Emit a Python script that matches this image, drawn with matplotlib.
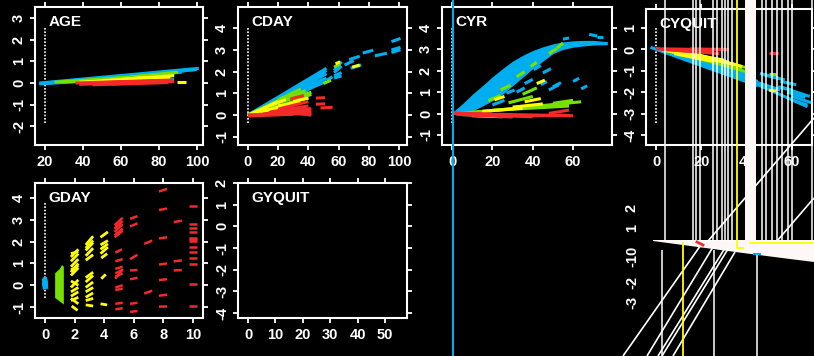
import numpy as np
import matplotlib.pyplot as plt
from matplotlib.collections import LineCollection

plt.rcParams['font.family'] = ['Liberation Sans', 'DejaVu Sans']

W, H = 814, 356
CYAN = '#00AEEF'
GREEN = '#76E000'
YELLOW = '#FFFF00'
RED = '#F42A2A'
OFFWHITE = '#FDF7F5'

# panel layout and axes (box in pixels: left, top, right, bottom)
titles = ['AGE', 'CDAY', 'CYR', 'CYQUIT', 'GDAY', 'GYQUIT']
boxes = [(35, 7, 203, 145), (238, 7, 407, 145), (442, 7, 612, 145),
         (646, 9, 812, 145), (35, 183, 203, 318), (238, 183, 407, 318)]
xlims = [(14.7, 103.2), (-6.6, 105.3), (-5.0, 79.3), (-4.5, 69.0), (-0.68, 10.68), (-3.65, 58.0)]
ylims = [(-2.86, 3.51), (-1.37, 4.96), (-1.47, 4.98), (-4.47, 1.89), (-1.5, 4.69), (-4.23, 2.0)]
xticks = [[20, 40, 60, 80, 100], [0, 20, 40, 60, 80, 100], [0, 20, 40, 60],
          [0, 20, 40, 60], [0, 2, 4, 6, 8, 10], [0, 10, 20, 30, 40, 50]]
yticks = [range(-2, 4), range(-1, 5), range(-1, 5), range(-4, 2), range(-1, 5), range(-4, 3)]

# white dotted reference line per panel: x, ymin, ymax
dot_x = [20, 0, 0, 0, 0, None]
dot_lo = [-1.85, -0.37, -0.45, -3.44, -0.58, None]
dot_hi = [2.54, 3.99, 4.0, 1.0, 3.77, None]

# ---- AGE segments (x0, y0, x1, y1)
age_cyan = [(17, 0.0, 101, 0.68), (17, -0.03, 95, 0.58), (20, 0.0, 90, 0.52), (30, 0.06, 99, 0.62),
            (40, 0.1, 88, 0.45), (17, -0.04, 60, 0.18), (60, 0.3, 92, 0.5), (78, 0.12, 88, 0.16),
            (88, 0.55, 100, 0.63)]
age_green = [(25, 0.04, 60, 0.24), (40, 0.1, 80, 0.36), (55, 0.2, 88, 0.45), (65, 0.28, 90, 0.5),
             (70, 0.3, 88, 0.38), (30, 0.05, 55, 0.15)]
age_yellow = [(38, 0.04, 70, 0.2), (50, 0.1, 85, 0.3), (60, 0.17, 88, 0.34), (68, 0.22, 86, 0.26),
              (89.5, 0.03, 94, 0.03)]
age_red = [(36, 0.0, 87, 0.14), (38, -0.06, 75, 0.04), (45, -0.08, 85, 0.02), (50, 0.02, 82, 0.1),
           (40, -0.03, 70, 0.08), (55, -0.05, 88, 0.08)]

# ---- CDAY
cday_cyan = [(0, 0, 35, 1.35), (0, 0, 40, 1.5), (0, 0, 45, 1.75), (0, 0, 52, 2.15), (5, 0.1, 52, 1.9),
             (10, 0.3, 50, 1.65), (20, 0.6, 52, 1.55), (25, 0.75, 40, 1.05), (30, 0.95, 40, 1.25),
             (38, 1.25, 52, 1.7), (40, 1.5, 52, 2.05), (15, 0.5, 42, 1.25), (57, 2.05, 62, 2.45),
             (57, 1.95, 62, 2.25), (57, 1.8, 62, 1.95), (57, 1.7, 62, 1.8), (64, 2.3, 70, 2.5),
             (67, 2.55, 74, 2.7), (76, 2.85, 83, 2.98), (68, 2.15, 75, 2.3), (84, 2.72, 92, 2.84),
             (95, 3.37, 101, 3.52), (95, 2.99, 101, 3.11), (95, 2.87, 101, 3.0), (52, 1.6, 56, 1.76)]
cday_green = [(0, 0, 30, 1.0), (0, 0, 38, 1.12), (10, 0.25, 40, 0.8), (15, 0.45, 42, 1.05),
              (20, 0.7, 35, 1.2), (50, 1.45, 55, 1.6), (57, 2.2, 61, 2.35), (30, 0.7, 42, 0.95)]
cday_yellow = [(0, 0, 20, 0.62), (5, 0.05, 30, 0.58), (15, 0.45, 25, 0.72), (20, 0.42, 35, 0.56),
               (30, 0.62, 40, 0.78), (58, 2.35, 61, 2.45), (69, 2.2, 74, 2.3), (10, 0.2, 22, 0.35)]
cday_red = [(0, 0, 42, 0.18), (0, 0, 42, 0.08), (0, -0.04, 30, 0.04), (10, 0.05, 42, 0.3),
            (20, 0.28, 40, 0.62), (28, 0.74, 37, 0.9), (45, 0.78, 51, 0.8), (45, 0.5, 51, 0.52),
            (48, 0.33, 56, 0.36), (15, 0.15, 40, 0.42), (30, 0.1, 42, 0.0)]

# ---- CYR: dense cyan band edges plus loose dashes
cyr_band_x = [0, 5, 10, 15, 20, 25, 30, 35, 40, 45, 50, 55, 60, 65, 70, 77]
cyr_band_top = [0.05, 0.45, 0.9, 1.3, 1.72, 2.1, 2.45, 2.72, 2.95, 3.12, 3.26, 3.35, 3.4, 3.42, 3.42, 3.36]
cyr_band_bot = [0.0, 0.03, 0.12, 0.35, 0.6, 0.9, 1.3, 1.7, 2.1, 2.45, 2.8, 3.0, 3.1, 3.16, 3.2, 3.22]
cyr_cyan = [(40.5, 2.05, 44, 2.25), (36, 1.4, 40, 1.6), (27, 0.95, 31, 1.1), (48, 1.1, 53, 1.35),
            (50, 1.25, 54, 1.45), (60, 1.5, 63, 1.65), (64, 1.15, 67, 1.3), (44, 1.35, 47, 1.5),
            (55, 3.48, 58, 3.53), (68, 3.7, 72, 3.62), (72, 3.6, 75, 3.6), (20, 0.4, 26, 0.62),
            (32, 1.0, 36, 1.2), (45, 1.9, 49, 2.1), (2, 0.0, 12, 0.3)]
cyr_green = [(2, 0.0, 58, 0.45), (10, 0.05, 64, 0.55), (20, 0.15, 58, 0.35), (32, 1.72, 36, 1.96),
             (39, 2.2, 42, 2.4), (48, 2.8, 52, 3.04), (52, 3.05, 55, 3.3), (24, 1.1, 29, 1.33),
             (18, 0.6, 24, 0.85), (50, 0.48, 60, 0.62), (28, 0.5, 40, 0.8), (35, 0.9, 42, 1.2)]
cyr_yellow = [(21, 0.64, 26, 0.8), (42, 1.4, 46, 1.56), (30, 0.3, 45, 0.45), (5, -0.05, 30, -0.12),
              (15, 0.1, 35, 0.25), (36, 0.55, 44, 0.7), (10, -0.1, 25, -0.15)]
cyr_red = [(0, 0.0, 60, -0.1), (2, -0.03, 40, -0.15), (10, -0.08, 30, -0.16), (20, -0.05, 55, -0.05),
           (48, 0.01, 58, 0.16), (0, 0.03, 20, -0.03)]

# ---- CYQUIT
cyq_cyan = [(-2.5, 0.1, 45, -1.7), (0, 0.05, 45, -1.5), (0, 0.02, 42, -1.25), (5, -0.1, 40, -1.05),
            (10, -0.3, 45, -1.6), (15, -0.45, 44, -1.4), (20, -0.55, 40, -1.2),
            (46, -1.12, 57, -1.43), (48, -1.2, 54, -1.35), (54, -1.75, 60, -1.9), (55, -1.75, 68, -2.2),
            (45, -1.65, 67, -2.68), (60, -2.2, 69, -2.5), (60, -2.36, 67, -2.6), (55, -1.5, 62, -1.65),
            (58, -2.0, 66, -2.25), (42, -1.45, 55, -1.9)]
cyq_green = [(3, -0.02, 38, -0.95), (8, -0.1, 40, -0.85), (12, -0.2, 35, -0.8), (20, -0.4, 40, -1.05),
             (50, -1.14, 53, -1.14)]
cyq_yellow = [(2, 0.0, 35, -0.7), (5, -0.02, 30, -0.5), (10, -0.1, 32, -0.6), (15, -0.15, 38, -0.8),
              (8, -0.2, 25, -0.55), (50, -1.9, 53, -1.95)]
cyq_red = [(0, 0.03, 32, -0.02), (5, 0.0, 25, -0.1), (10, -0.05, 28, -0.2), (15, 0.02, 32, 0.0),
           (2, 0.0, 20, -0.12), (50, -0.17, 54, -0.17)]

# ---- GDAY
gday_cyan = [(-0.18, -0.05, 0.18, 0.0), (-0.18, 0.05, 0.18, 0.08), (-0.18, 0.13, 0.18, 0.17),
             (-0.15, 0.2, 0.15, 0.22)]
gday_green_poly = [(0.68, 0.55), (1.0, 0.75), (1.15, 0.93), (1.27, 0.85), (1.27, -0.88), (0.68, -0.58)]
gday_yellow = [(1.75, 1.3, 2.25, 1.65), (1.75, 1.1, 2.25, 1.45), (1.75, 0.85, 2.25, 1.2),
               (1.75, 0.6, 2.25, 1.0), (1.75, 0.45, 2.25, 0.8), (1.75, 0.2, 2.25, 0.0),
               (1.75, -0.1, 2.25, 0.25), (1.75, -0.3, 2.25, -0.1), (1.75, -0.5, 2.25, -0.3),
               (1.75, -0.7, 2.25, -0.55), (1.75, -0.6, 2.25, -0.85), (1.8, -0.95, 2.2, -1.15),
               (1.75, 1.45, 2.25, 1.55), (1.75, 0.7, 2.25, 0.9),
               (2.75, 1.85, 3.25, 2.25), (2.75, 1.6, 3.25, 1.95), (2.75, 1.35, 3.25, 1.7),
               (2.75, 1.15, 3.25, 1.4), (2.75, 0.35, 3.25, 0.6), (2.75, 0.15, 3.25, 0.45),
               (2.75, -0.1, 3.25, 0.15), (2.75, -0.3, 3.25, -0.1), (2.75, -0.55, 3.25, -0.35),
               (2.75, -0.7, 3.25, -0.6), (2.75, -0.9, 3.25, -0.95), (2.75, 1.7, 3.25, 2.05),
               (3.75, 2.2, 4.25, 2.45), (3.75, 1.85, 4.25, 2.05), (3.75, 1.65, 4.25, 1.9),
               (3.75, 1.45, 4.25, 1.75), (3.8, 1.25, 4.2, 1.45), (3.8, 0.3, 4.1, 0.5), (3.75, -0.85, 4.2, -0.9)]
gday_red = [(4.7, 2.75, 5.25, 3.1), (4.7, 2.6, 5.25, 2.95), (4.7, 2.45, 5.25, 2.8), (4.7, 2.3, 5.25, 2.6),
            (4.7, 2.2, 5.25, 2.5), (4.75, 1.5, 5.2, 1.65), (4.75, 1.1, 5.25, 1.2), (4.75, 0.75, 5.25, 0.85),
            (4.75, 0.55, 5.25, 0.7), (4.75, 0.4, 5.25, 0.55), (4.75, 0.3, 5.25, 0.75),
            (4.75, -0.1, 5.25, 0.0), (4.75, -0.22, 5.25, -0.15), (4.75, -0.85, 5.25, -0.8),
            (4.75, -1.1, 5.25, -1.05),
            (5.75, 3.05, 6.25, 3.17), (5.75, 2.7, 6.25, 2.84), (5.75, 1.2, 6.25, 1.4), (5.75, 0.68, 6.25, 0.7),
            (5.75, 0.27, 6.25, 0.35), (5.75, -0.85, 6.25, -0.8), (5.75, -1.22, 6.25, -1.18),
            (6.7, 1.9, 7.25, 2.05), (6.7, -0.38, 7.25, -0.25),
            (7.7, 4.3, 8.25, 4.42), (7.7, 3.45, 8.25, 3.52), (7.7, 2.15, 8.25, 2.2), (7.7, 0.95, 8.25, 1.0),
            (7.7, 0.24, 8.25, 0.28), (7.7, -0.48, 8.25, -0.43), (7.7, -0.98, 8.25, -0.97),
            (8.7, 2.9, 9.25, 2.96), (8.7, 1.1, 9.25, 1.14), (8.7, 0.68, 9.25, 0.7),
            (9.7, 3.63, 10.25, 3.63), (9.7, 2.8, 10.25, 2.8), (9.7, 2.61, 10.25, 2.61),
            (9.7, 2.46, 10.25, 2.46), (9.7, 2.18, 10.25, 2.18), (9.7, 2.1, 10.25, 2.1),
            (9.7, 2.02, 10.25, 2.02), (9.7, 1.77, 10.25, 1.77), (9.7, 1.54, 10.25, 1.54),
            (9.7, 1.23, 10.25, 1.23), (9.7, 0.98, 10.25, 0.98), (9.7, 0.04, 10.25, 0.04),
            (9.7, -0.95, 10.25, -0.95)]

# ---- stray overlay in the lower right (figure pixel units)
stray_vlines_top = [665, 693, 696, 700, 713, 717, 722, 725, 728, 732, 762, 766, 772, 777, 782,
                    788, 792, 812]
stray_vlines_bot = [662, 714, 757]
stray_diag = [(708, 241, 814, 118), (777, 241, 814, 198), (623, 356, 703, 242), (647, 356, 713, 247),
              (658, 356, 725, 248), (662, 356, 728, 249), (673, 356, 735, 252)]
wedge = [(653, 240), (814, 240), (814, 262), (790, 259), (743, 253), (653, 241)]
yellow_path_x = [737, 737, 743]
yellow_path_y = [0, 248, 248]
stray_labels = ['2', '1', '-10', '-2', '-3']
stray_label_y = [208, 228, 256, 282, 302]

fig = plt.figure(figsize=(W / 100, H / 100), dpi=100, facecolor='black')


def rect(b):
    x0, y0, x1, y1 = b
    return [x0 / W, 1 - y1 / H, (x1 - x0) / W, (y1 - y0) / H]


def segs(ax, data, color, lw=2.2):
    lc = LineCollection([[(a, b), (c, d)] for a, b, c, d in data], colors=color,
                        linewidths=lw, capstyle='butt')
    ax.add_collection(lc)


axes = []
for i, t in enumerate(titles):
    ax = fig.add_axes(rect(boxes[i]))
    ax.set_facecolor('black')
    ax.set_xlim(*xlims[i])
    ax.set_ylim(*ylims[i])
    ax.set_xticks(xticks[i])
    ax.set_yticks(list(yticks[i]))
    ax.set_yticklabels([str(v) for v in yticks[i]], rotation=90, va='center')
    for s in ax.spines.values():
        s.set_color('white')
        s.set_linewidth(1.5)
    ax.tick_params(colors='white', direction='out', length=3.5, width=1.3,
                   top=True, right=True, labelsize=10.5)
    ax.tick_params(axis='x', pad=4)
    ax.tick_params(axis='y', pad=3)
    for lab in ax.get_xticklabels() + ax.get_yticklabels():
        lab.set_fontweight('bold')
    ax.text(0.08, 0.89, t, transform=ax.transAxes, color='white', fontsize=11,
            fontweight='bold', ha='left', va='center')
    if dot_x[i] is not None:
        ax.plot([dot_x[i], dot_x[i]], [dot_lo[i], dot_hi[i]], color='white', lw=1.2,
                linestyle=(0, (1, 1)))
    axes.append(ax)

a_age, a_cday, a_cyr, a_cyq, a_gday, a_gyq = axes

segs(a_age, age_cyan, CYAN)
segs(a_age, age_green, GREEN)
segs(a_age, age_yellow, YELLOW)
segs(a_age, age_red, RED)

segs(a_cday, cday_cyan, CYAN)
segs(a_cday, cday_green, GREEN)
segs(a_cday, cday_yellow, YELLOW)
segs(a_cday, cday_red, RED)

a_cyr.fill_between(cyr_band_x, cyr_band_bot, cyr_band_top, color=CYAN, lw=0)
segs(a_cyr, cyr_cyan, CYAN)
segs(a_cyr, cyr_green, GREEN)
segs(a_cyr, cyr_yellow, YELLOW)
segs(a_cyr, cyr_red, RED)

segs(a_cyq, cyq_cyan, CYAN)
segs(a_cyq, cyq_green, GREEN)
segs(a_cyq, cyq_yellow, YELLOW)
segs(a_cyq, cyq_red, RED)

segs(a_gday, gday_cyan, CYAN, lw=5)
a_gday.fill(*zip(*gday_green_poly), color=GREEN, lw=0)
segs(a_gday, gday_yellow, YELLOW, lw=2)
segs(a_gday, gday_red, RED, lw=1.8)

# overlay in pixel coordinates
ov = fig.add_axes([0, 0, 1, 1])
ov.set_xlim(0, W)
ov.set_ylim(H, 0)
ov.axis('off')
ov.patch.set_alpha(0)
ov.vlines(stray_vlines_top, 0, 241, colors='white', lw=1.1)
ov.vlines(stray_vlines_bot, 250, H, colors='white', lw=1.1)
ov.fill_between([745, 756], 0, 247, color=OFFWHITE, lw=0)
segs(ov, stray_diag, 'white', lw=1.2)
ov.fill(*zip(*wedge), color=OFFWHITE, lw=0)
ov.plot(yellow_path_x, yellow_path_y, color=YELLOW, lw=1.3)
ov.plot([750, W], [243, 243], color=YELLOW, lw=1.3)
ov.plot([683, 683], [243, H], color=YELLOW, lw=1.3)
ov.plot([697, 703], [242, 245], color=RED, lw=2)
ov.plot([754, 760], [254, 254], color=CYAN, lw=1.5)
ov.plot([453, 453], [0, H], color=CYAN, lw=1.5)
for lab, yy in zip(stray_labels, stray_label_y):
    ov.text(632, yy, lab, color='white', fontsize=10.5, fontweight='bold', rotation=90,
            ha='center', va='center')

fig.savefig('out.png', dpi=100, facecolor='black')
